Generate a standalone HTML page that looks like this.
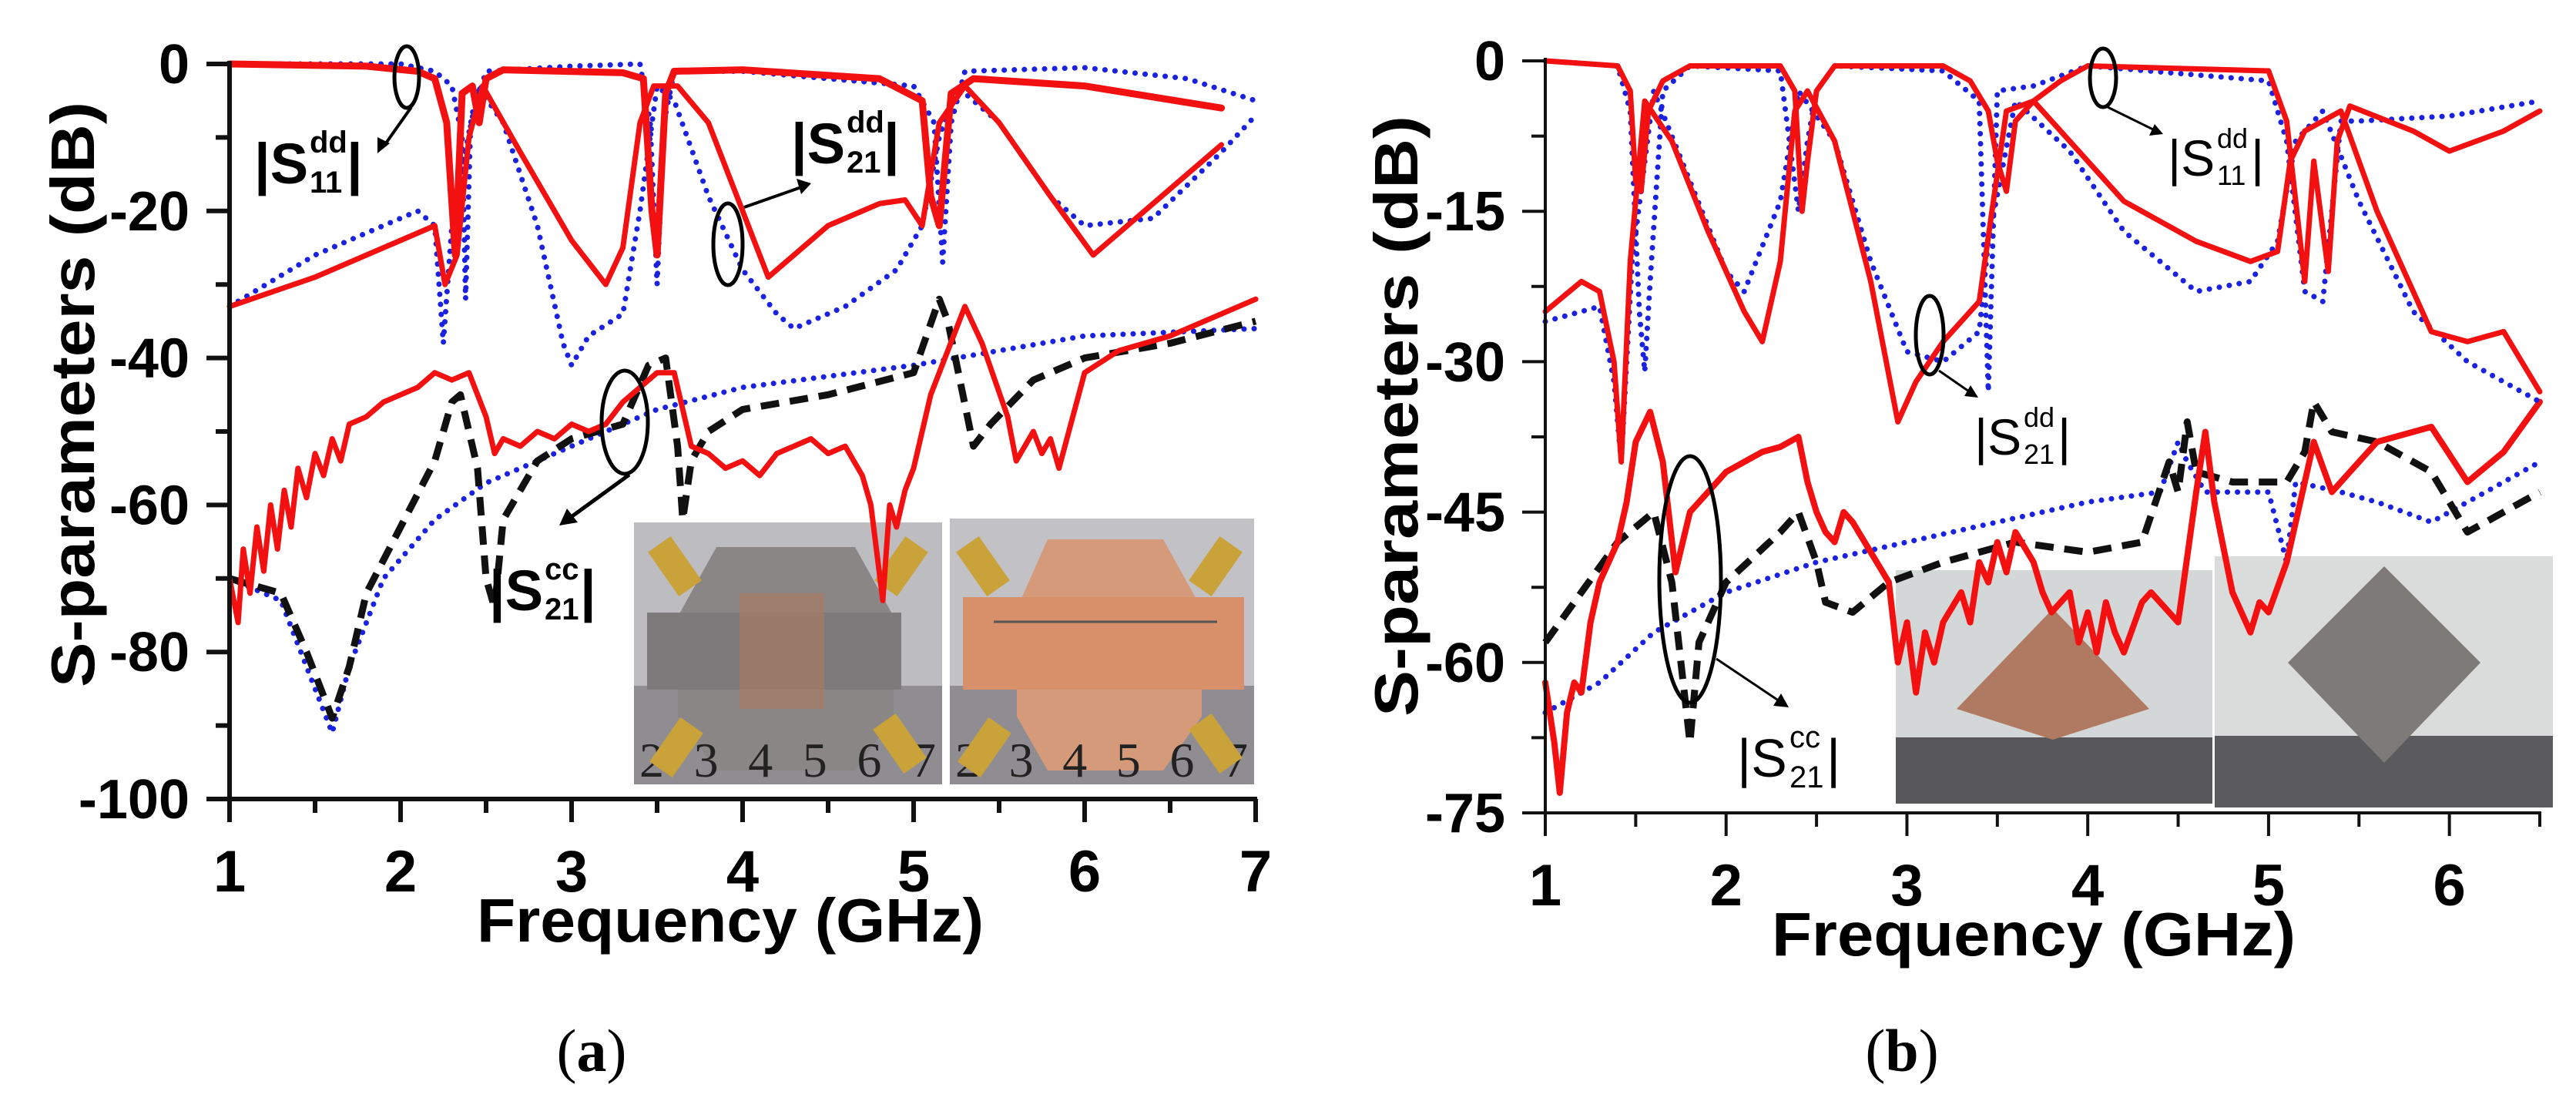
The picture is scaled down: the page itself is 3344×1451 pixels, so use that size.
<!DOCTYPE html>
<html><head><meta charset="utf-8"><title>S-parameters</title>
<style>html,body{margin:0;padding:0;background:#fff}svg{display:block}</style></head>
<body>
<svg id="fig" xmlns="http://www.w3.org/2000/svg" width="3344" height="1451" viewBox="0 0 3344 1451" font-family="Liberation Sans, Arial, sans-serif">
<rect width="3344" height="1451" fill="#fff"/>
<g>
  <rect x="823" y="678" width="400" height="340" fill="#bdbcc0"/>
  <rect x="823" y="890" width="400" height="128" fill="#8f8d92"/>
  <polygon points="930,710 1110,710 1160,800 1160,930 1110,1000 930,1000 880,930 880,800" fill="#8a8686"/>
  <rect x="840" y="795" width="330" height="100" fill="#7d7a7b"/>
  <rect x="960" y="770" width="110" height="150" fill="#a97a62" opacity="0.7"/>
  <text x="830" y="1008" font-family="Liberation Serif, serif" font-size="64" fill="#222" textLength="385" lengthAdjust="spacing">234567</text>
  <rect x="1233" y="673" width="395" height="345" fill="#c2c1c6"/>
  <rect x="1233" y="890" width="395" height="128" fill="#8f8d92"/>
  <polygon points="1360,700 1510,700 1560,790 1560,930 1510,1000 1360,1000 1320,930 1320,790" fill="#d49a7a"/>
  <rect x="1250" y="775" width="365" height="120" fill="#d8906a"/>
  <line x1="1290" y1="807" x2="1580" y2="807" stroke="#555" stroke-width="3"/>
  <text x="1240" y="1008" font-family="Liberation Serif, serif" font-size="64" fill="#222" textLength="380" lengthAdjust="spacing">234567</text>
  <g fill="#c9a23a">
    <rect x="858" y="700" width="36" height="70" transform="rotate(-35 876 735)"/>
    <rect x="1152" y="700" width="36" height="70" transform="rotate(35 1170 735)"/>
    <rect x="860" y="935" width="36" height="70" transform="rotate(35 878 970)"/>
    <rect x="1150" y="930" width="36" height="70" transform="rotate(-35 1168 965)"/>
    <rect x="1258" y="700" width="36" height="70" transform="rotate(-35 1276 735)"/>
    <rect x="1560" y="700" width="36" height="70" transform="rotate(35 1578 735)"/>
    <rect x="1260" y="935" width="36" height="70" transform="rotate(35 1278 970)"/>
    <rect x="1560" y="930" width="36" height="70" transform="rotate(-35 1578 965)"/>
  </g>
</g>
<g>
  <rect x="2461" y="740" width="411" height="303" fill="#d4d7d7"/>
  <rect x="2461" y="957" width="411" height="86" fill="#58575a"/>
  <polygon points="2665,790 2790,920 2665,960 2540,920" fill="#b07a62"/>
  <rect x="2875" y="722" width="439" height="326" fill="#dadcdc"/>
  <rect x="2875" y="955" width="439" height="93" fill="#5b5a5d"/>
  <polygon points="3095,735 3220,860 3095,990 2970,860" fill="#7d7a78"/>
</g>
<g id="plots"></g>
<g fill="none" stroke="#000" stroke-width="5">
  <ellipse cx="528" cy="100" rx="16" ry="40"/>
  <ellipse cx="945" cy="317" rx="19" ry="53"/>
  <ellipse cx="811" cy="548" rx="30" ry="67"/>
  <line x1="534" y1="139" x2="498" y2="190" stroke-width="4"/>
  <line x1="966" y1="269" x2="1040" y2="243" stroke-width="4"/>
  <line x1="817" y1="616" x2="740" y2="672" stroke-width="5"/>
</g>
<g fill="#000">
  <polygon points="490,199 490,178 506,186"/>
  <polygon points="1053,238 1034,232 1040,252"/>
  <polygon points="726,682 736,660 750,678"/>
</g>
<g fill="none" stroke="#000" stroke-width="5">
  <ellipse cx="2730" cy="101" rx="17" ry="38"/>
  <ellipse cx="2505" cy="435" rx="18" ry="51"/>
  <ellipse cx="2194" cy="752" rx="40" ry="160"/>
  <line x1="2736" y1="139" x2="2795" y2="168" stroke-width="3"/>
  <line x1="2517" y1="481" x2="2556" y2="508" stroke-width="3"/>
  <line x1="2228" y1="855" x2="2310" y2="910" stroke-width="3"/>
</g>
<g fill="#000">
  <polygon points="2808,174 2790,176 2797,161"/>
  <polygon points="2568,516 2550,514 2558,500"/>
  <polygon points="2322,918 2302,916 2312,900"/>
</g>
<g font-weight="bold" fill="#000">
  <text x="330" y="238" font-size="74">|S</text>
  <text x="402" y="198" font-size="40">dd</text>
  <text x="402" y="250" font-size="40">11</text>
  <text x="450" y="238" font-size="74">|</text>
</g>
<g font-weight="bold" fill="#000">
  <text x="1027" y="212" font-size="74">|S</text>
  <text x="1099" y="172" font-size="40">dd</text>
  <text x="1099" y="224" font-size="40">21</text>
  <text x="1147" y="212" font-size="74">|</text>
</g>
<g font-weight="bold" fill="#000">
  <text x="635" y="792" font-size="74">|S</text>
  <text x="707" y="752" font-size="40">cc</text>
  <text x="707" y="804" font-size="40">21</text>
  <text x="753" y="792" font-size="74">|</text>
</g>
<g fill="#000">
  <text x="2814" y="228" font-size="66">|S</text>
  <text x="2878" y="192" font-size="36">dd</text>
  <text x="2878" y="240" font-size="36">11</text>
  <text x="2922" y="228" font-size="66">|</text>
</g>
<g fill="#000">
  <text x="2563" y="590" font-size="66">|S</text>
  <text x="2627" y="554" font-size="36">dd</text>
  <text x="2627" y="602" font-size="36">21</text>
  <text x="2671" y="590" font-size="66">|</text>
</g>
<g fill="#000">
  <text x="2255" y="1008" font-size="70">|S</text>
  <text x="2323" y="970" font-size="40">cc</text>
  <text x="2323" y="1022" font-size="40">21</text>
  <text x="2371" y="1008" font-size="70">|</text>
</g>
<text x="768" y="1390" text-anchor="middle" font-family="Liberation Serif, serif" font-size="78">(<tspan font-weight="bold">a</tspan>)</text>
<text x="2469" y="1390" text-anchor="middle" font-family="Liberation Serif, serif" font-size="78">(<tspan font-weight="bold">b</tspan>)</text>
</svg>
<script>
const aXTicks = [1,2,3,4,5,6,7];
const aYTicks = [0,-20,-40,-60,-80,-100];
const aYTickLabels = ["0","-20","-40","-60","-80","-100"];
const aRedS21 = [[1,0],[1.8,-0.3],[2.1,-1],[2.2,-2],[2.27,-8],[2.32,-26],[2.36,-4],[2.42,-3],[2.46,-8],[2.5,-2],[2.6,-0.8],[3.3,-1.2],[3.42,-2],[3.47,-20],[3.5,-26],[3.55,-4],[3.6,-1],[4,-0.8],[4.8,-2],[5.05,-5],[5.1,-18],[5.15,-22],[5.22,-4],[5.35,-2],[6,-3],[6.8,-6]];
const aRedS11 = [[1,-33],[1.5,-29],[2,-24],[2.2,-22],[2.26,-30],[2.33,-26],[2.4,-10],[2.48,-3],[2.7,-12],[3.0,-24],[3.2,-30],[3.3,-25],[3.4,-8],[3.48,-3],[3.62,-3],[3.8,-8],[4.0,-20],[4.15,-29],[4.5,-22],[4.8,-19],[4.95,-18.5],[5.05,-22],[5.15,-8],[5.3,-3],[5.5,-8],[5.8,-18],[6.05,-26],[6.4,-19],[6.8,-11]];
const aBlueS21 = [[1,0],[2,0],[2.2,-1],[2.3,-3],[2.36,-10],[2.38,-32],[2.41,-8],[2.5,-1],[3,-0.3],[3.4,0],[3.46,-8],[3.5,-30],[3.54,-8],[3.6,-1],[4,-1],[5,-3],[5.12,-8],[5.17,-27],[5.22,-8],[5.3,-1],[6,-0.5],[6.6,-2],[7,-5]];
const aBlueS11 = [[1,-33],[1.5,-26],[2,-21],[2.1,-20],[2.2,-22],[2.25,-38],[2.3,-22],[2.45,-3],[2.6,-8],[2.8,-22],[2.95,-38],[3.0,-41],[3.1,-37],[3.3,-34],[3.4,-20],[3.5,-3],[3.6,-5],[3.8,-18],[4.0,-28],[4.2,-34],[4.3,-36],[4.6,-33],[4.9,-28],[5.05,-22],[5.15,-10],[5.25,-3],[5.5,-8],[5.8,-18],[6.0,-22],[6.4,-21],[6.8,-12],[7,-7]];
const aBlackScc = [[1,-70],[1.3,-72],[1.45,-80],[1.55,-86],[1.6,-89],[1.7,-82],[1.8,-72],[2.0,-63],[2.2,-54],[2.3,-46],[2.35,-45],[2.45,-55],[2.5,-70],[2.55,-74],[2.6,-62],[2.8,-54],[3,-51],[3.3,-49],[3.45,-41],[3.55,-40],[3.62,-52],[3.65,-62],[3.7,-54],[3.8,-50],[4.0,-47],[4.5,-45],[5.0,-42],[5.15,-32],[5.2,-35],[5.35,-52],[5.45,-49],[5.7,-43],[6.0,-40],[6.5,-38],[7,-35]];
const aBlueScc = [[1,-70],[1.3,-73],[1.5,-85],[1.6,-91],[1.7,-82],[1.9,-70],[2.2,-62],[2.5,-57],[3,-52],[3.5,-47],[4,-44],[5,-41],[5.5,-39],[6,-37],[7,-36]];
const aRedScc = [[1,-70],[1.05,-76],[1.08,-66],[1.12,-72],[1.16,-63],[1.2,-69],[1.24,-60],[1.28,-66],[1.32,-58],[1.36,-63],[1.4,-55],[1.45,-59],[1.5,-53],[1.55,-56],[1.6,-51],[1.65,-54],[1.7,-49],[1.8,-48],[1.9,-46],[2.0,-45],[2.1,-44],[2.2,-42],[2.3,-43],[2.4,-42],[2.45,-45],[2.5,-48],[2.55,-53],[2.6,-51],[2.7,-52],[2.8,-50],[2.9,-51],[3.0,-49],[3.1,-50],[3.2,-49],[3.3,-46],[3.4,-44],[3.5,-42],[3.6,-42],[3.7,-52],[3.8,-53],[3.9,-55],[4.0,-54],[4.1,-56],[4.2,-53],[4.3,-52],[4.4,-51],[4.5,-53],[4.6,-52],[4.7,-56],[4.75,-60],[4.82,-73],[4.86,-60],[4.9,-63],[4.95,-58],[5.0,-55],[5.1,-45],[5.15,-42],[5.3,-33],[5.4,-38],[5.55,-48],[5.6,-54],[5.7,-50],[5.75,-53],[5.8,-51],[5.85,-55],[6.0,-42],[6.2,-39],[6.5,-37],[7,-32]];
const bXTicks = [1,2,3,4,5,6];
const bYTicks = [0,-15,-30,-45,-60,-75];
const bYTickLabels = ["0","-15","-30","-45","-60","-75"];
const bRedS21 = [[1,0],[1.4,-0.5],[1.47,-3],[1.5,-12],[1.53,-13],[1.57,-5],[1.65,-2],[1.8,-0.5],[2.3,-0.5],[2.38,-3],[2.42,-15],[2.45,-10],[2.5,-3],[2.6,-0.5],[3.2,-0.5],[3.35,-2],[3.45,-5],[3.5,-10],[3.55,-13],[3.6,-6],[3.7,-4],[3.85,-2],[4,-0.5],[5.0,-1],[5.1,-6],[5.2,-22],[5.25,-10],[5.33,-21],[5.38,-8],[5.45,-4.5],[5.8,-7],[6.0,-9],[6.3,-7],[6.5,-5]];
const bRedS11 = [[1,-25],[1.2,-22],[1.3,-23],[1.38,-30],[1.42,-40],[1.47,-20],[1.55,-4],[1.7,-8],[1.9,-17],[2.1,-25],[2.2,-28],[2.3,-20],[2.38,-5],[2.45,-3],[2.6,-8],[2.8,-22],[2.95,-36],[3.05,-32],[3.2,-28],[3.4,-24],[3.47,-15],[3.55,-5],[3.7,-4],[3.9,-8],[4.2,-14],[4.6,-18],[4.9,-20],[5.05,-19],[5.12,-10],[5.2,-7],[5.4,-5],[5.6,-15],[5.9,-27],[6.1,-28],[6.3,-27],[6.5,-33]];
const bBlueS21 = [[1,0],[1.4,-0.5],[1.47,-5],[1.52,-25],[1.55,-31],[1.58,-22],[1.65,-3],[1.8,-0.5],[2.3,-1],[2.35,-8],[2.4,-15],[2.45,-8],[2.5,-3],[2.6,-0.5],[3.2,-1],[3.4,-4],[3.45,-33],[3.5,-3],[3.7,-2.5],[4,-0.5],[5,-2],[5.1,-8],[5.2,-23],[5.3,-24],[5.4,-6],[5.5,-6],[6,-5.5],[6.5,-4]];
const bBlueS11 = [[1,-26],[1.3,-24.5],[1.38,-32],[1.42,-40],[1.48,-20],[1.6,-3],[1.8,-12],[2.0,-21],[2.1,-23],[2.3,-14],[2.4,-3],[2.6,-8],[2.8,-20],[3.0,-29],[3.2,-30],[3.4,-27],[3.45,-18],[3.6,-4],[3.9,-9],[4.2,-17],[4.6,-23],[4.9,-22],[5.05,-18],[5.15,-8],[5.3,-5],[5.5,-14],[5.8,-25],[6.1,-30],[6.5,-34]];
const bBlackScc = [[1,-58],[1.2,-53],[1.4,-48],[1.6,-45],[1.7,-52],[1.8,-68],[1.85,-58],[2.0,-52],[2.3,-47],[2.4,-45],[2.5,-50],[2.55,-54],[2.7,-55],[2.9,-52],[3.2,-50],[3.6,-48],[4.0,-49],[4.3,-48],[4.45,-40],[4.5,-43],[4.55,-36],[4.6,-41],[4.8,-42],[5.1,-42],[5.2,-39],[5.25,-34],[5.35,-37],[5.6,-38],[5.9,-41],[6.1,-47],[6.3,-45],[6.5,-43]];
const bBlueScc = [[1,-65],[1.3,-62],[1.6,-57],[2,-53],[2.5,-50],[3,-48],[3.5,-46],[4,-44],[4.4,-43],[4.5,-38],[4.55,-40],[4.65,-43],[5.0,-43],[5.1,-50],[5.15,-42],[5.4,-43],[5.6,-44],[5.9,-46],[6.2,-43],[6.5,-40]];
const bRedScc = [[1,-62],[1.05,-68],[1.08,-73],[1.12,-65],[1.16,-62],[1.2,-63],[1.25,-56],[1.3,-52],[1.35,-50],[1.4,-48],[1.45,-44],[1.5,-38],[1.58,-35],[1.65,-40],[1.72,-51],[1.8,-45],[1.9,-43],[2.0,-41],[2.1,-40],[2.2,-39],[2.3,-38.5],[2.4,-37.5],[2.45,-42],[2.5,-45],[2.55,-47],[2.6,-48],[2.65,-45],[2.7,-46],[2.8,-49],[2.9,-52],[2.95,-60],[3.0,-56],[3.05,-63],[3.1,-57],[3.15,-60],[3.2,-56],[3.3,-53],[3.35,-56],[3.4,-50],[3.45,-52],[3.5,-48],[3.55,-51],[3.6,-47],[3.7,-50],[3.75,-53],[3.8,-55],[3.9,-53],[3.95,-58],[4.0,-55],[4.05,-59],[4.1,-54],[4.15,-57],[4.2,-59],[4.3,-54],[4.35,-53],[4.45,-55],[4.5,-56],[4.6,-43],[4.65,-37],[4.7,-44],[4.8,-53],[4.85,-55],[4.9,-57],[4.95,-54],[5.0,-55],[5.1,-50],[5.2,-42],[5.25,-38],[5.35,-43],[5.45,-41],[5.6,-38],[5.9,-36.5],[6.1,-42],[6.3,-39],[6.5,-34]];

const NS = "http://www.w3.org/2000/svg";
const root = document.getElementById('plots');
function mk(tag, attrs, parent){
  const e = document.createElementNS(NS, tag);
  for (const k in attrs) e.setAttribute(k, attrs[k]);
  (parent||root).appendChild(e); return e;
}
function panel(cfg){
  const g = mk('g', {});
  
  
  const sx = f => cfg.x0 + (f - cfg.fmin) / (cfg.fmax - cfg.fmin) * (cfg.x1 - cfg.x0);
  const sy = d => cfg.y0 + (d - cfg.dmax) / (cfg.dmin - cfg.dmax) * (cfg.y1 - cfg.y0);
  const path = pts => pts.map((p,i)=>(i?'L':'M')+sx(p[0]).toFixed(1)+','+sy(p[1]).toFixed(1)).join(' ');
  cfg.series.forEach(s => {
    const p = mk('path', {d: path(s.data), fill:'none', stroke:s.color, 'stroke-width':s.w, 'stroke-linejoin':'round', 'stroke-linecap':'round'}, g);
    if (s.dash) p.setAttribute('stroke-dasharray', s.dash);
    if (s.dash && s.dash.indexOf('0.1')===0) p.setAttribute('stroke-linecap','round');
    if (s.dash && s.dash.indexOf('0.1')!==0) p.setAttribute('stroke-linecap','butt');
    
    
  });
  const ax = mk('g', {stroke:'#111', 'stroke-width':cfg.aw, fill:'none'}, g);
  
  
  mk('line', {x1:cfg.x0, y1:cfg.y0-4, x2:cfg.x0, y2:cfg.y1+cfg.aw/2}, ax);
  mk('line', {x1:cfg.x0-cfg.aw/2, y1:cfg.y1, x2:cfg.x1+2, y2:cfg.y1}, ax);
  cfg.yTicks.forEach((t,i) => {
    const y = sy(t);
    mk('line', {x1:cfg.x0-30, y1:y, x2:cfg.x0, y2:y}, ax);
    if (i < cfg.yTicks.length-1) { const ym = sy((t + cfg.yTicks[i+1])/2); mk('line', {x1:cfg.x0-18, y1:ym, x2:cfg.x0, y2:ym}, ax); }
    const tx = mk('text', {x:cfg.x0-52, y:y+25, 'text-anchor':'end', 'font-size':72, 'font-weight':'bold', fill:'#000', stroke:'none'}, g);
    tx.textContent = cfg.yLabels[i];
    
    
  });
  cfg.xTicks.forEach((t,i) => {
    const x = sx(t);
    mk('line', {x1:x, y1:cfg.y1, x2:x, y2:cfg.y1+30}, ax);
    if (t+0.5 <= cfg.fmax) { const xm = sx(t+0.5); mk('line', {x1:xm, y1:cfg.y1, x2:xm, y2:cfg.y1+18}, ax); }
    const tx = mk('text', {x:x, y:cfg.y1+120, 'text-anchor':'middle', 'font-size':76, 'font-weight':'bold', fill:'#000', stroke:'none'}, g);
    tx.textContent = String(t);
    
    
  });
  const xt = mk('text', {x:cfg.xtX, y:cfg.y1+185, 'text-anchor':'middle', 'font-size':80, 'font-weight':'bold', fill:'#000', textLength:cfg.xtW, lengthAdjust:'spacingAndGlyphs'}, g);
  xt.textContent = 'Frequency  (GHz)';
  
  
  const yt = mk('text', {x:0, y:0, 'text-anchor':'middle', 'font-size':80, 'font-weight':'bold', fill:'#000', transform:'translate('+cfg.ytX+','+cfg.ytY+') rotate(-90)', textLength:cfg.ytW, lengthAdjust:'spacingAndGlyphs'}, g);
  yt.textContent = 'S-parameters (dB)';
  
  
}
const RED='#f21010', BLUE='#1a22e0', BLK='#111';
const DOT='0.1 13', DASH='24 14';
panel({name:'chart-a', x0:298, x1:1630, y0:83, y1:1037, fmin:1, fmax:7, dmax:0, dmin:-100,
  xTicks:aXTicks, yTicks:aYTicks, yLabels:aYTickLabels, aw:6, xtX:948, xtW:658, ytX:122, ytY:512, ytW:760,
  series:[
    {name:'series-a-scc-sim-blue', data:aBlueScc, color:BLUE, w:7, dash:DOT},
    {name:'series-a-scc-meas-black', data:aBlackScc, color:BLK, w:9, dash:DASH},
    {name:'series-a-scc-red', data:aRedScc, color:RED, w:7},
    {name:'series-a-s11-blue', data:aBlueS11, color:BLUE, w:7, dash:DOT},
    {name:'series-a-s21-blue', data:aBlueS21, color:BLUE, w:7, dash:DOT},
    {name:'series-a-s11-red', data:aRedS11, color:RED, w:7},
    {name:'series-a-s21-red', data:aRedS21, color:RED, w:9}
  ]});
panel({name:'chart-b', x0:2006, x1:3297, y0:79, y1:1055, fmin:1, fmax:6.5, dmax:0, dmin:-75,
  xTicks:bXTicks, yTicks:bYTicks, yLabels:bYTickLabels, aw:4, xtX:2640, xtW:680, ytX:1840, ytY:540, ytW:780,
  series:[
    {name:'series-b-scc-sim-blue', data:bBlueScc, color:BLUE, w:7, dash:DOT},
    {name:'series-b-scc-meas-black', data:bBlackScc, color:BLK, w:9, dash:DASH},
    {name:'series-b-scc-red', data:bRedScc, color:RED, w:8},
    {name:'series-b-s11-blue', data:bBlueS11, color:BLUE, w:7, dash:DOT},
    {name:'series-b-s21-blue', data:bBlueS21, color:BLUE, w:7, dash:DOT},
    {name:'series-b-s11-red', data:bRedS11, color:RED, w:7},
    {name:'series-b-s21-red', data:bRedS21, color:RED, w:7}
  ]});
</script>
</body></html>
